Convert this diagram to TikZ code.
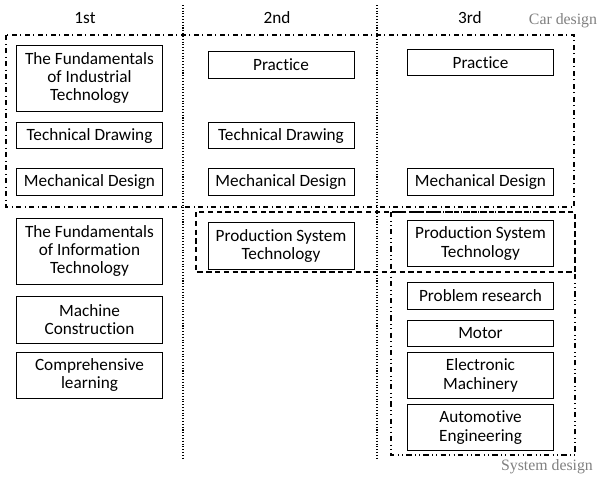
\documentclass[tikz,border=0pt]{standalone}
\usepackage{fontspec}
\setmainfont{Carlito}[Ligatures={CommonOff,ContextualOff,RareOff,TeXOff}]
\newfontfamily\labelfont{Liberation Serif}
\usetikzlibrary{positioning}
\tikzset{
  course/.style={
    draw,
    rectangle,
    minimum width=2.92cm,
    minimum height=0.53cm,
    align=center,
    inner sep=1pt,
    font=\fontsize{9.8}{10.4}\selectfont
  },
  course2/.style={course, minimum height=0.93cm},
  course3/.style={course, minimum height=1.32cm},
  year/.style={font=\fontsize{9.8}{10.4}\selectfont},
  divider/.style={densely dotted, semithick},
  cargroup/.style={dash dot, semithick},
  prodgroup/.style={densely dashed, semithick},
  sysgroup/.style={dash dot dot, semithick},
  grouplabel/.style={gray, font=\labelfont\fontsize{9}{10}\selectfont}
}
\begin{document}
\begin{tikzpicture}[x=0.02cm, y=-0.02cm]
    \useasboundingbox (0,0) rectangle (600,478);

    % years
    \node[year] (first) at (85,18) {1st};
    \node[year] (second) at (277,18) {2nd};
    \node[year] (third) at (470,18) {3rd};
    \draw[divider] (183,5) -- (183,458);
    \draw[divider] (377,5) -- (377,458);

    % 1st year
    \node[course3] (fundind) at (89.5,78) {The Fundamentals\\of Industrial\\Technology};
    \node[course] (draw1) at (89.5,135.5) {Technical Drawing};
    \node[course] (mech1) at (89.5,182) {Mechanical Design};
    \node[course3] (fundinfo) at (89.5,251) {The Fundamentals\\of Information\\Technology};
    \node[course2, below=0.24cm of fundinfo] (machine) {Machine\\Construction};
    \node[course2, below=0.16cm of machine] (compr) {Comprehensive\\learning};

    % 2nd year
    \node[course] (practice2) at (281,65) {Prac{}tice};
    \node[course] (draw2) at (281,135.5) {Technical Drawing};
    \node[course] (mech2) at (281,182) {Mechanical Design};
    \node[course2] (prod2) at (281,246) {Production System\\Technology};

    % 3rd year
    \node[course] (practice3) at (480.5,62.5) {Prac{}tice};
    \node[course] (mech3) at (480.5,182) {Mechanical Design};
    \node[course2] (prod3) at (480.5,243.5) {Production System\\Technology};
    \node[course] (problem) at (480.5,296) {Problem research};
    \node[course, below=0.2cm of problem] (motor) {Motor};
    \node[course2, below=0.1cm of motor] (elec) {Electronic\\Machinery};
    \node[course2, below=0.1cm of elec] (auto) {Automotive\\Engineering};

    % groups
    \draw[cargroup] (6,35) rectangle (574,207);
    \draw[prodgroup] (196,212) rectangle (575,272);
    \draw[sysgroup] (391,212) rectangle (575,455);
    \node[grouplabel] (carlabel) at (563,21) {Car design};
    \node[grouplabel] (syslabel) at (547,467) {System design};
\end{tikzpicture}
\end{document}
